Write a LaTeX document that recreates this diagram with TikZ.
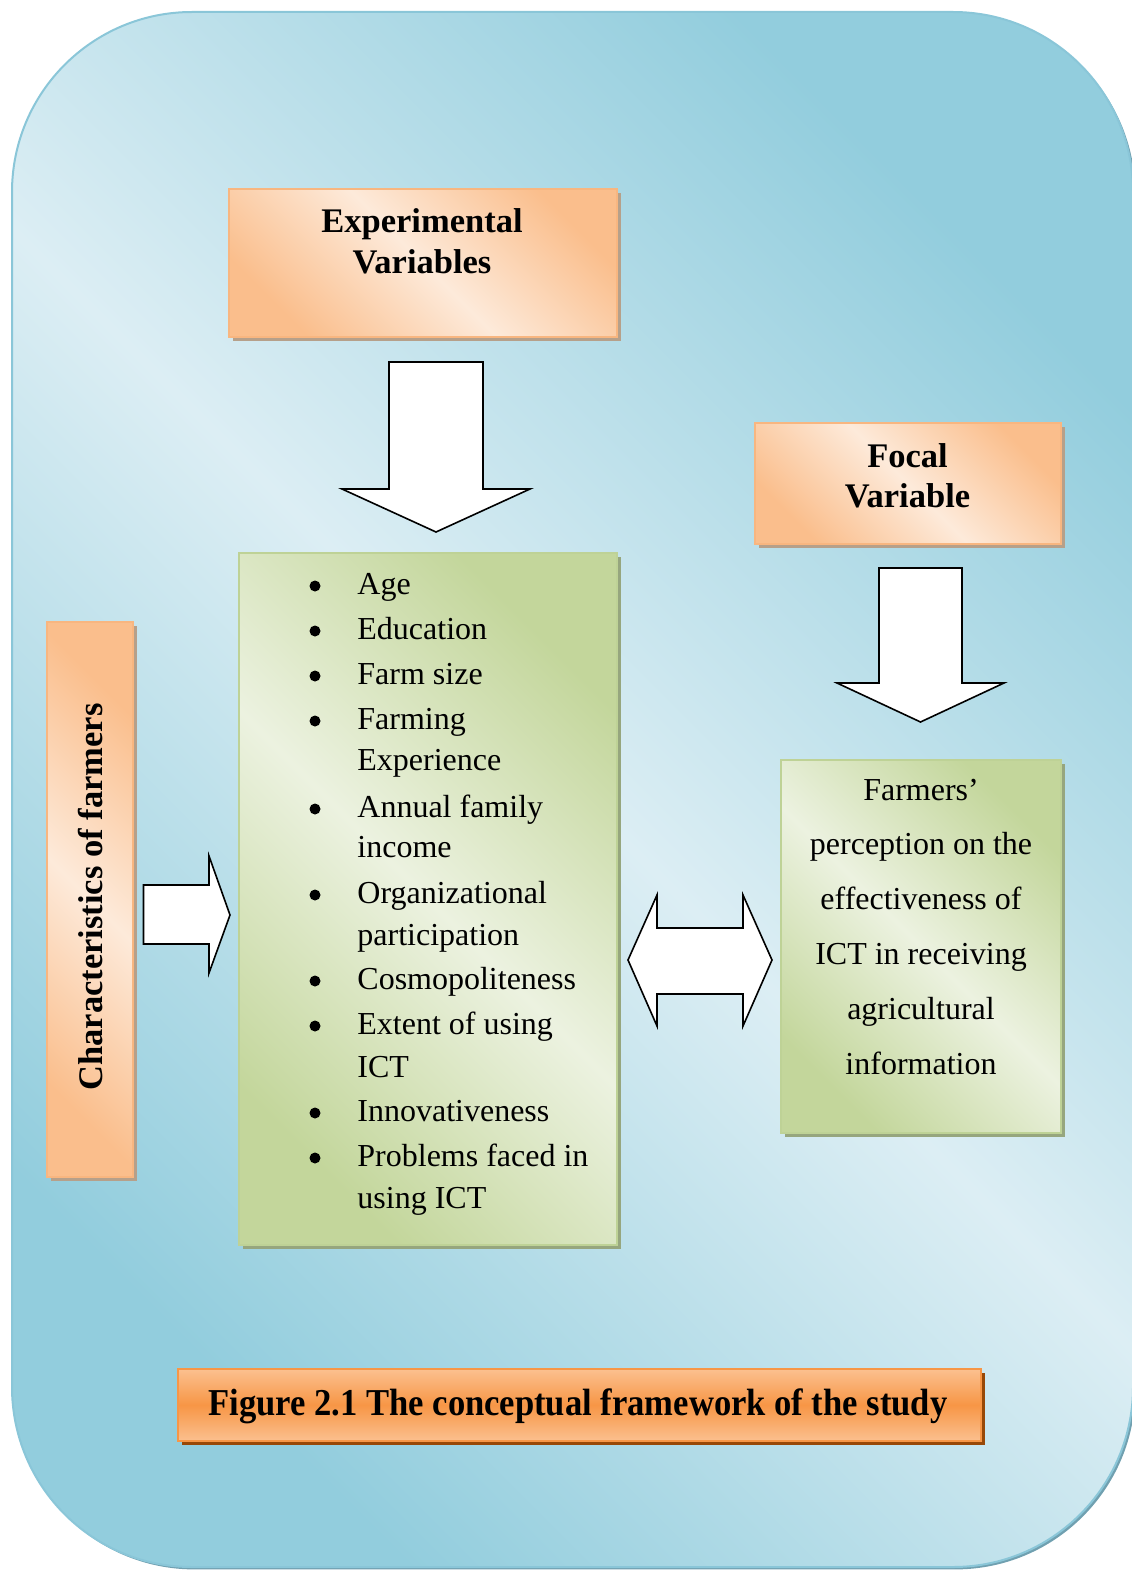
\documentclass[tikz,border=0pt]{standalone}
\usepackage{fontspec}
\setmainfont{Liberation Serif}
\usepackage{graphicx}
\usetikzlibrary{
  shadows  % 方框阴影
}
\definecolor{bgLight}{RGB}{220,238,244}
\definecolor{bgDark}{RGB}{146,205,221}
\definecolor{bgEdge}{RGB}{138,198,216}
\definecolor{bgShadow}{RGB}{112,160,176}
\definecolor{orangeLight}{RGB}{253,234,218}
\definecolor{orangeDark}{RGB}{250,190,140}
\definecolor{orangeEdge}{RGB}{248,182,128}
\definecolor{orangeShadow}{RGB}{182,160,138}
\definecolor{greenLight}{RGB}{236,242,224}
\definecolor{greenDark}{RGB}{195,214,155}
\definecolor{greenEdge}{RGB}{190,210,150}
\definecolor{greenShadow}{RGB}{150,166,126}
\definecolor{capLight}{RGB}{251,192,143}
\definecolor{capDark}{RGB}{247,150,70}
\definecolor{capShadow}{RGB}{152,72,7}
\tikzset{
  frame box/.style={
    rectangle, inner sep=0pt,
    rounded corners=90pt,
    draw=bgEdge, line width=1pt,
    left color=bgDark, right color=bgDark, middle color=bgLight,
    shading angle=-45,
    drop shadow={shadow xshift=1.2pt, shadow yshift=-1.2pt, fill=bgShadow, opacity=1}
  },
  orange box/.style={
    rectangle, inner sep=0pt,
    draw=orangeEdge, line width=1pt,
    left color=orangeDark, right color=orangeDark, middle color=orangeLight,
    shading angle=-45,
    drop shadow={shadow xshift=2pt, shadow yshift=-2pt, fill=orangeShadow, opacity=1}
  },
  green box/.style={
    rectangle, inner sep=0pt,
    draw=greenEdge, line width=1pt,
    left color=greenDark, right color=greenDark, middle color=greenLight,
    shading angle=-45,
    drop shadow={shadow xshift=2pt, shadow yshift=-2pt, fill=greenShadow, opacity=1}
  },
  caption box/.style={
    rectangle, inner sep=0pt,
    draw=capDark, line width=1pt,
    top color=capLight, bottom color=capLight, middle color=capDark,
    drop shadow={shadow xshift=2pt, shadow yshift=-2pt, fill=capShadow, opacity=1}
  },
  block arrow/.style={
    draw=black, fill=white,
    line width=0.8pt, line join=miter
  },
  head text/.style={
    font=\bfseries\fontsize{17.25pt}{20pt}\selectfont,
    inner sep=0pt, anchor=base
  },
  body text/.style={
    font=\fontsize{16pt}{19pt}\selectfont,
    inner sep=0pt
  },
  bullet dot/.style={
    circle, fill=black,
    inner sep=0pt, minimum size=5.5pt
  }
}

\begin{document}
\begin{tikzpicture}[x=0.5pt, y=-0.5pt]
    \useasboundingbox (0,0) rectangle (1131,1573);

    % 1. 背景圆角框
    \node[frame box, minimum width=560.5pt, minimum height=777.5pt] (frame) at (572.5,789.5) {};

    % 2. 两个橙色标题框
    \node[orange box, minimum width=194pt, minimum height=74pt] (expvar) at (423,263) {};
    \node[head text] (expvar1) at (422,233) {Experimental};
    \node[head text] (expvar2) at (422,273) {Variables};

    \node[orange box, minimum width=153pt, minimum height=60.5pt] (focal) at (908,483.5) {};
    \node[head text] (focal1) at (907.5,467) {Focal};
    \node[head text] (focal2) at (907.5,507) {Variable};

    % 竖排的农户特征框
    \node[orange box, minimum width=43pt, minimum height=277.5pt] (farmers) at (90,899.5) {};
    \node[head text, rotate=90, anchor=center] (farmerstxt) at (91,897) {Characteristics of farmers};

    % 3. 绿色框：变量列表
    \node[green box, minimum width=189pt, minimum height=346pt] (varlist) at (428,899) {};
    \foreach \y/\txt [count=\i] in {594/Age, 639/Education, 684/Farm size, 729/Farming,
        770/Experience, 817/Annual family, 857/income, 903/Organizational,
        945/participation, 989/Cosmopoliteness, 1034/Extent of using, 1077/ICT,
        1121/Innovativeness, 1166/Problems faced in, 1208/using ICT}
      \node[body text, anchor=base west] (line\i) at (357,\y) {\txt};
    \foreach \y [count=\i] in {594,639,684,729,817,903,989,1034,1121,1166}
      \node[bullet dot] (dot\i) at (315,\y-8) {};

    % 绿色框：焦点变量
    \node[green box, minimum width=140pt, minimum height=186.5pt] (effect) at (921,946.5) {};
    \foreach \txt [count=\i] in {Farmers’, perception on the, effectiveness of,
        ICT in receiving, agricultural, information}
      \node[body text, anchor=base] (eff\i) at (921,745.2+54.8*\i) {\txt};

    % 4. 空心箭头
    \draw[block arrow] (389,362) -- (483,362) -- (483,489) -- (530,489)
      -- (436,532) -- (342,489) -- (389,489) -- cycle;
    \draw[block arrow] (879,568) -- (962,568) -- (962,683) -- (1004,683)
      -- (920.5,722) -- (837,683) -- (879,683) -- cycle;
    \draw[block arrow] (143.5,885) -- (209,885) -- (209,856) -- (230,915)
      -- (209,973) -- (209,944) -- (143.5,944) -- cycle;
    % 双向箭头
    \draw[block arrow] (628,960) -- (657,895) -- (657,928) -- (743,928)
      -- (743,895) -- (772,960) -- (743,1026) -- (743,994) -- (657,994)
      -- (657,1026) -- cycle;

    % 5. 图题
    \node[caption box, minimum width=401.5pt, minimum height=36pt] (caption) at (579.5,1405) {};
    \node[head text, font=\bfseries\fontsize{19pt}{22pt}\selectfont] (captiontxt) at (578,1415)
      {\scalebox{0.91}[1]{Figure 2.1 The conceptual framework of the study}};

  \end{tikzpicture}
\end{document}
